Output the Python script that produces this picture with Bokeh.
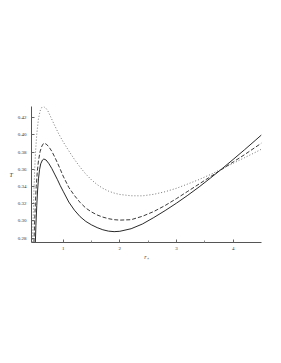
from bokeh.plotting import figure
from bokeh.embed import file_html
from bokeh.resources import INLINE
from bokeh.models import Range1d, FixedTicker, CustomJSTickFormatter

# ---- data ----
r_solid = [0.51, 0.52, 0.535, 0.55, 0.565, 0.585, 0.605, 0.635, 0.66, 0.70, 0.75, 0.80, 0.85, 0.90, 0.95,
           1.0, 1.1, 1.2, 1.3, 1.4, 1.5, 1.6, 1.7, 1.8, 1.9, 2.0, 2.2, 2.4, 2.6, 2.8, 3.0, 3.2, 3.4,
           3.6, 3.8, 4.0, 4.2, 4.4, 4.5]
T_solid = [0.275, 0.295, 0.318, 0.336, 0.349, 0.360, 0.3665, 0.3708, 0.372, 0.3708, 0.3665, 0.361, 0.3545, 0.348, 0.341,
           0.3346, 0.322, 0.3125, 0.3050, 0.2995, 0.2955, 0.2923, 0.2898, 0.2882, 0.2876, 0.2880, 0.2910, 0.2965, 0.3040, 0.3121, 0.3207, 0.3299, 0.3396,
           0.3499, 0.3605, 0.3715, 0.3827, 0.3942, 0.4]

r_dash = [0.485, 0.495, 0.51, 0.525, 0.545, 0.565, 0.595, 0.625, 0.655, 0.70, 0.75, 0.80, 0.85, 0.90, 0.95,
          1.0, 1.1, 1.2, 1.3, 1.4, 1.5, 1.6, 1.7, 1.8, 1.9, 2.0, 2.2, 2.4, 2.6, 2.8, 3.0, 3.2, 3.4,
          3.6, 3.8, 4.0, 4.2, 4.4, 4.5]
T_dash = [0.275, 0.295, 0.320, 0.340, 0.358, 0.370, 0.381, 0.387, 0.3902, 0.3895, 0.386, 0.381, 0.3745, 0.3675, 0.360,
          0.3522, 0.339, 0.3295, 0.3215, 0.315, 0.3105, 0.307, 0.3045, 0.3027, 0.3015, 0.3010, 0.3015, 0.3055, 0.3110, 0.3180, 0.3260, 0.3345, 0.3430,
          0.3515, 0.360, 0.3685, 0.377, 0.386, 0.3905]

r_dot = [0.46, 0.47, 0.485, 0.50, 0.515, 0.535, 0.565, 0.595, 0.625, 0.66, 0.69, 0.73, 0.78, 0.85, 0.92,
         1.0, 1.1, 1.2, 1.3, 1.4, 1.5, 1.6, 1.7, 1.8, 1.9, 2.0, 2.2, 2.4, 2.6, 2.8, 3.0, 3.2, 3.4,
         3.6, 3.8, 4.0, 4.2, 4.4, 4.5]
T_dot = [0.275, 0.300, 0.335, 0.362, 0.382, 0.401, 0.419, 0.428, 0.432, 0.4328, 0.4315, 0.428, 0.421, 0.411, 0.4015,
         0.392, 0.3815, 0.3715, 0.3625, 0.3545, 0.3478, 0.3423, 0.338, 0.3347, 0.3324, 0.3308, 0.3293, 0.3292, 0.3310, 0.3340, 0.3380, 0.3430, 0.3482,
         0.354, 0.3605, 0.367, 0.3735, 0.380, 0.3835]

x_ticks = [1, 2, 3, 4]
y_ticks = [0.28, 0.30, 0.32, 0.34, 0.36, 0.38, 0.40, 0.42]

p = figure(width=273, height=308, output_backend="svg", toolbar_location=None,
           x_range=Range1d(0.442, 4.5), y_range=Range1d(0.275, 0.433),
           min_border_left=31, min_border_right=12, min_border_top=106, min_border_bottom=66)
p.outline_line_color = None
p.grid.visible = False
p.background_fill_color = "white"
p.border_fill_color = "white"

p.line(r_solid, T_solid, line_color="#111111", line_width=0.9)
p.line(r_dash, T_dash, line_color="#222222", line_width=0.9, line_dash="4 2")
p.line(r_dot, T_dot, line_color="#666666", line_width=0.9, line_dash="1 2")

font = "Liberation Serif"
for ax in (p.xaxis[0], p.yaxis[0]):
    ax.axis_line_color = "#555555"
    ax.axis_line_width = 1
    ax.major_tick_line_color = "#666666"
    ax.minor_tick_line_color = "#888888"
    ax.major_tick_in = 3
    ax.major_tick_out = 0
    ax.minor_tick_in = 2
    ax.minor_tick_out = 0
    ax.major_label_text_font = font
    ax.major_label_text_font_size = "5px"
    ax.major_label_text_color = "#333333"
    ax.axis_label_text_font = font
    ax.axis_label_text_font_style = "italic"
    ax.axis_label_text_font_size = "6px"
    ax.axis_label_text_color = "#333333"

p.xaxis.ticker = FixedTicker(ticks=x_ticks, minor_ticks=[1.5, 2.5, 3.5])
p.yaxis.ticker = FixedTicker(ticks=y_ticks)
p.yaxis.formatter = CustomJSTickFormatter(code="return tick.toFixed(2);")
p.xaxis.major_label_standoff = 4
p.yaxis.major_label_standoff = 5
p.xaxis.axis_label = "r\u208a"
p.yaxis.axis_label = "T"
p.yaxis.axis_label_orientation = "horizontal"
p.xaxis.axis_label_standoff = 1
p.yaxis.axis_label_standoff = 2

open("out.html", "w").write(file_html(p, INLINE))
